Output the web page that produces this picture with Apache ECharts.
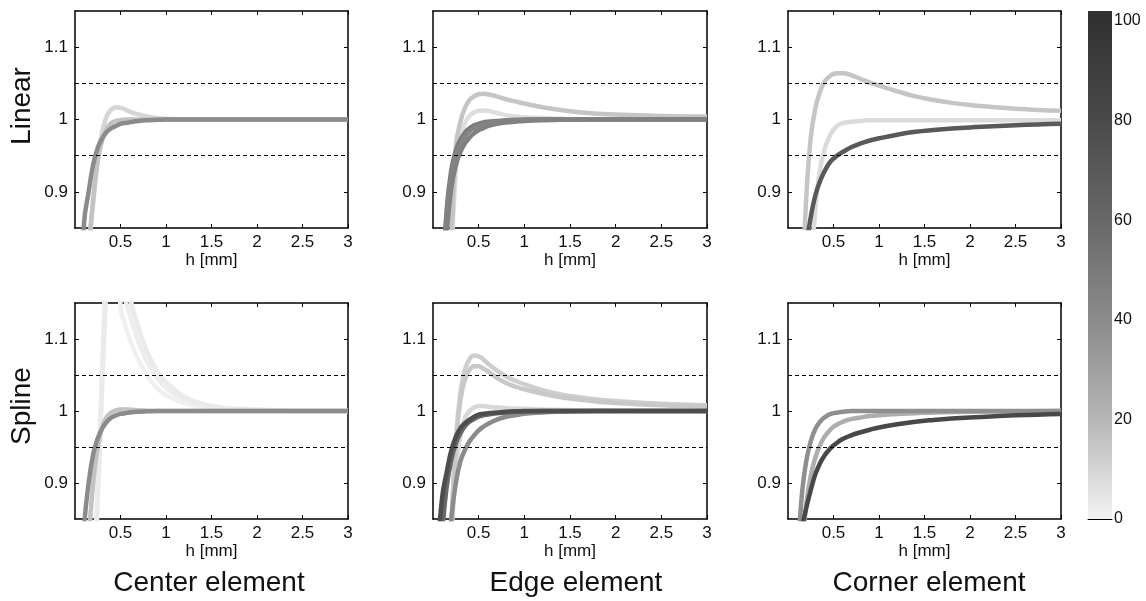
<!DOCTYPE html>
<html>
<head>
<meta charset="utf-8">
<script src="https://cdn.jsdelivr.net/npm/echarts@6/dist/echarts.min.js"></script>
<style>
  html, body { margin: 0; padding: 0; background: #fff; }
  #chart { width: 1146px; height: 601px; }
</style>
</head>
<body>
<div id="chart"></div>
<script>
// Element size h [mm] sampled on a common grid
const hValues = [0.05, 0.1, 0.15, 0.2, 0.25, 0.3, 0.35, 0.4, 0.45, 0.5, 0.55, 0.6, 0.7, 0.8, 0.9, 1.0, 1.2, 1.4, 1.6, 1.8, 2.0, 2.5, 3.0];

// Linear interpolation – center element
const linCenterA = [null, null, 0.82, 0.885, 0.945, 0.984, 1.005, 1.014, 1.017, 1.016, 1.014, 1.011, 1.007, 1.004, 1.002, 1.001, 1.0, 1.0, 1.0, 1.0, 1.0, 1.0, 1.0];
const linCenterB = [null, null, 0.82, 0.89, 0.943, 0.972, 0.988, 0.995, 0.998, 0.999, 1.0, 1.0, 1.0, 1.0, 1.0, 1.0, 1.0, 1.0, 1.0, 1.0, 1.0, 1.0, 1.0];
const linCenterC = [0.70, 0.858, 0.9, 0.938, 0.961, 0.974, 0.983, 0.988, 0.991, 0.994, 0.995, 0.996, 0.998, 0.999, 0.9995, 1.0, 1.0, 1.0, 1.0, 1.0, 1.0, 1.0, 1.0];
const linCenterLevels = [10, 16, 40];

// Linear interpolation – edge element
const linEdgeA = [null, null, null, 0.8, 0.925, 0.975, 0.995, 1.005, 1.01, 1.012, 1.0125, 1.012, 1.009, 1.006, 1.004, 1.003, 1.002, 1.001, 1.0, 1.0, 1.0, 1.0, 1.0];
const linEdgeB = [null, null, null, 0.81, 0.962, 0.997, 1.016, 1.027, 1.032, 1.035, 1.0355, 1.035, 1.032, 1.028, 1.025, 1.022, 1.017, 1.013, 1.010, 1.008, 1.007, 1.005, 1.004];
const linEdgeC = [null, 0.76, 0.875, 0.93, 0.957, 0.972, 0.982, 0.988, 0.992, 0.994, 0.996, 0.997, 0.998, 0.999, 0.9995, 1.0, 1.0, 1.0, 1.0, 1.0, 1.0, 1.0, 1.0];
const linEdgeD = [null, 0.75, 0.87, 0.922, 0.95, 0.966, 0.977, 0.984, 0.988, 0.991, 0.993, 0.995, 0.997, 0.998, 0.999, 0.999, 1.0, 1.0, 1.0, 1.0, 1.0, 1.0, 1.0];
const linEdgeE = [null, null, 0.84, 0.905, 0.937, 0.955, 0.967, 0.975, 0.981, 0.985, 0.988, 0.991, 0.994, 0.996, 0.997, 0.998, 0.999, 0.9995, 1.0, 1.0, 1.0, 1.0, 1.0];
const linEdgeLevels = [7, 15, 50, 44, 46];

// Linear interpolation – corner element
const linCornerA = [null, null, null, null, 0.78, 0.875, 0.93, 0.958, 0.975, 0.986, 0.992, 0.995, 0.997, 0.998, 0.999, 0.999, 0.999, 0.999, 0.999, 0.999, 0.999, 0.999, 0.999];
const linCornerB = [null, null, 0.75, 0.89, 0.975, 1.015, 1.038, 1.052, 1.059, 1.063, 1.064, 1.064, 1.061, 1.056, 1.051, 1.047, 1.039, 1.032, 1.027, 1.023, 1.020, 1.015, 1.012];
const linCornerC = [null, null, 0.78, 0.825, 0.865, 0.895, 0.914, 0.928, 0.939, 0.946, 0.951, 0.955, 0.962, 0.967, 0.971, 0.974, 0.979, 0.983, 0.9855, 0.9875, 0.989, 0.992, 0.994];
const linCornerLevels = [8, 15, 70];

// Spline interpolation – center element
const splCenterA = [null, null, null, 0.75, 0.9, 1.07, 1.25, 1.45, 1.3, 1.145, 1.12, 1.1, 1.07, 1.048, 1.032, 1.022, 1.011, 1.006, 1.003, 1.002, 1.001, 1.0, 1.0];
const splCenterB = [null, null, null, 0.73, 0.89, 1.05, 1.22, 1.45, 1.6, 1.3, 1.16, 1.135, 1.095, 1.066, 1.046, 1.032, 1.016, 1.008, 1.004, 1.002, 1.001, 1.0, 1.0];
const splCenterC = [null, null, null, 0.72, 0.875, 1.04, 1.2, 1.45, 1.6, 1.55, 1.3, 1.165, 1.115, 1.08, 1.056, 1.04, 1.02, 1.01, 1.005, 1.003, 1.002, 1.0, 1.0];
const splCenterD = [null, null, 0.82, 0.9, 0.95, 0.978, 0.992, 0.998, 1.001, 1.002, 1.002, 1.002, 1.001, 1.0005, 1.0, 1.0, 1.0, 1.0, 1.0, 1.0, 1.0, 1.0, 1.0];
const splCenterE = [0.72, 0.84, 0.9, 0.94, 0.962, 0.976, 0.985, 0.991, 0.994, 0.996, 0.997, 0.998, 0.999, 0.9995, 1.0, 1.0, 1.0, 1.0, 1.0, 1.0, 1.0, 1.0, 1.0];
const splCenterLevels = [1, 2, 3, 16, 40];

// Spline interpolation – edge element
const splEdgeA = [null, null, 0.72, 0.82, 0.92, 0.965, 0.99, 1.0, 1.005, 1.007, 1.007, 1.006, 1.005, 1.004, 1.003, 1.003, 1.002, 1.0015, 1.001, 1.001, 1.0005, 1.0, 1.0];
const splEdgeB = [null, null, 0.7, 0.84, 0.96, 1.025, 1.058, 1.072, 1.077, 1.076, 1.072, 1.066, 1.056, 1.048, 1.042, 1.037, 1.029, 1.023, 1.019, 1.016, 1.014, 1.010, 1.008];
const splEdgeC = [null, null, 0.7, 0.835, 0.952, 1.015, 1.044, 1.057, 1.062, 1.062, 1.059, 1.055, 1.046, 1.039, 1.034, 1.03, 1.024, 1.019, 1.016, 1.013, 1.011, 1.008, 1.006];
const splEdgeD = [null, null, 0.77, 0.85, 0.9, 0.93, 0.946, 0.958, 0.966, 0.973, 0.978, 0.982, 0.988, 0.992, 0.994, 0.996, 0.998, 0.999, 0.9995, 1.0, 1.0, 1.0, 1.0];
const splEdgeE = [null, 0.83, 0.895, 0.932, 0.955, 0.969, 0.979, 0.985, 0.989, 0.992, 0.994, 0.995, 0.997, 0.998, 0.999, 0.999, 1.0, 1.0, 1.0, 1.0, 1.0, 1.0, 1.0];
const splEdgeF = [0.8, 0.88, 0.915, 0.945, 0.964, 0.976, 0.983, 0.988, 0.992, 0.995, 0.996, 0.997, 0.998, 0.999, 0.9995, 1.0, 1.0, 1.0, 1.0, 1.0, 1.0, 1.0, 1.0];
const splEdgeLevels = [9, 12, 14, 40, 60, 78];

// Spline interpolation – corner element
const splCornerA = [null, null, 0.8, 0.87, 0.91, 0.935, 0.952, 0.964, 0.972, 0.978, 0.982, 0.985, 0.989, 0.991, 0.993, 0.994, 0.996, 0.997, 0.998, 0.9985, 0.999, 0.9995, 1.0];
const splCornerB = [null, 0.78, 0.88, 0.93, 0.958, 0.975, 0.985, 0.991, 0.995, 0.997, 0.998, 0.999, 1.0, 1.0, 1.0, 1.0, 1.0, 1.0, 1.0, 1.0, 1.0, 1.0, 1.0];
const splCornerC = [null, null, 0.835, 0.865, 0.89, 0.912, 0.927, 0.938, 0.946, 0.952, 0.957, 0.961, 0.9665, 0.9705, 0.974, 0.977, 0.9815, 0.985, 0.9875, 0.9895, 0.991, 0.994, 0.996];
const splCornerLevels = [24, 38, 82];

// Axis ticks and labels
const xTicks = [0.5, 1, 1.5, 2, 2.5, 3];
const yTicks = [0.9, 1, 1.1];
const bandLimits = [1.05, 0.95];
const colorbarTicks = [0, 20, 40, 60, 80, 100];
const rowLabels = ['Linear', 'Spline'];
const columnLabels = ['Center element', 'Edge element', 'Corner element'];

// Gray colormap: level (0-100) -> gray value
const cmapLevels = [0, 20, 40, 60, 80, 100];
const cmapGrays = [243, 182, 139, 104, 74, 50];

function levelColor(v) {
  let g = cmapGrays[cmapGrays.length - 1];
  for (let i = 0; i < cmapLevels.length - 1; i++) {
    if (v <= cmapLevels[i + 1]) {
      const t = (v - cmapLevels[i]) / (cmapLevels[i + 1] - cmapLevels[i]);
      g = cmapGrays[i] + t * (cmapGrays[i + 1] - cmapGrays[i]);
      break;
    }
  }
  g = Math.round(g);
  return 'rgb(' + g + ',' + g + ',' + g + ')';
}

const panels = [
  { curves: [linCenterA, linCenterB, linCenterC], levels: linCenterLevels },
  { curves: [linEdgeA, linEdgeB, linEdgeC, linEdgeD, linEdgeE], levels: linEdgeLevels },
  { curves: [linCornerA, linCornerB, linCornerC], levels: linCornerLevels },
  { curves: [splCenterA, splCenterB, splCenterC, splCenterD, splCenterE], levels: splCenterLevels },
  { curves: [splEdgeA, splEdgeB, splEdgeC, splEdgeD, splEdgeE, splEdgeF], levels: splEdgeLevels },
  { curves: [splCornerA, splCornerB, splCornerC], levels: splCornerLevels }
];

const FONT = '"Liberation Sans", Arial, Helvetica, sans-serif';
const INK = '#111';
const colLeft = [75, 433, 788];
const colWidth = [273, 274, 273];
const rowTop = [11, 303];
const rowHeight = [217, 216];

const grids = [], xAxes = [], yAxes = [], series = [];

panels.forEach((panel, p) => {
  const r = Math.floor(p / 3), c = p % 3;
  grids.push({ left: colLeft[c], top: rowTop[r], width: colWidth[c], height: rowHeight[r], containLabel: false });
  const frame = { show: true, onZero: false, lineStyle: { color: '#000', width: 1.5 } };
  const tickX = { show: true, inside: true, length: 4, customValues: xTicks, lineStyle: { color: '#000', width: 1 } };
  const tickY = { show: true, inside: true, length: 4, customValues: yTicks, lineStyle: { color: '#000', width: 1 } };
  xAxes.push({
    type: 'value', gridIndex: p, min: 0, max: 3, position: 'bottom',
    axisLine: frame, axisTick: tickX, splitLine: { show: false },
    axisLabel: { show: true, customValues: xTicks, margin: 6, fontSize: 17, color: INK, fontFamily: FONT, formatter: v => String(v) },
    name: 'h [mm]', nameLocation: 'middle', nameGap: 22,
    nameTextStyle: { fontSize: 17, color: INK, fontFamily: FONT }
  });
  xAxes.push({
    type: 'value', gridIndex: p, min: 0, max: 3, position: 'top',
    axisLine: frame, axisTick: tickX, splitLine: { show: false }, axisLabel: { show: false }
  });
  yAxes.push({
    type: 'value', gridIndex: p, min: 0.85, max: 1.15, position: 'left',
    axisLine: frame, axisTick: tickY, splitLine: { show: false },
    axisLabel: { show: true, customValues: yTicks, margin: 7, fontSize: 17, color: INK, fontFamily: FONT, formatter: v => String(v) }
  });
  yAxes.push({
    type: 'value', gridIndex: p, min: 0.85, max: 1.15, position: 'right',
    axisLine: frame, axisTick: tickY, splitLine: { show: false }, axisLabel: { show: false }
  });

  panel.curves.forEach((ys, k) => {
    const data = [];
    hValues.forEach((h, i) => { if (ys[i] !== null) data.push([h, ys[i]]); });
    const s = {
      type: 'line', xAxisIndex: 2 * p, yAxisIndex: 2 * p,
      data: data, showSymbol: false, symbol: 'none',
      smooth: 0.45, clip: true, silent: true,
      lineStyle: { width: 4.5, color: levelColor(panel.levels[k]) },
      z: 2 + k
    };
    if (k === 0) {
      s.markLine = {
        silent: true, symbol: ['none', 'none'], label: { show: false },
        lineStyle: { color: '#000', type: [4, 3], width: 1 },
        data: bandLimits.map(v => ({ yAxis: v })), z: 20
      };
    }
    series.push(s);
  });
});

// Colorbar drawn as one bar filled with the colormap gradient
const cbMax = 102;
grids.push({ left: 1088, top: 11, width: 24, height: 508 });
xAxes.push({
  type: 'category', gridIndex: 6, data: ['level'],
  axisLine: { show: true, lineStyle: { color: '#000', width: 1 } },
  axisTick: { show: false }, axisLabel: { show: false }, splitLine: { show: false }
});
yAxes.push({
  type: 'value', gridIndex: 6, min: 0, max: cbMax, position: 'right',
  axisLine: { show: false }, splitLine: { show: false },
  axisTick: { show: false },
  axisLabel: { show: true, customValues: colorbarTicks, margin: 2, fontSize: 16, color: INK, fontFamily: FONT }
});
series.push({
  type: 'bar', xAxisIndex: 12, yAxisIndex: 12, data: [cbMax],
  barWidth: '100%', silent: true,
  itemStyle: {
    color: {
      type: 'linear', x: 0, y: 1, x2: 0, y2: 0,
      colorStops: cmapLevels.map(v => ({ offset: v / cbMax, color: levelColor(v) }))
        .concat([{ offset: 1, color: levelColor(100) }])
    }
  }
});

const graphic = [];
const rowCenters = [106, 406];
rowLabels.forEach((t, i) => {
  graphic.push({
    type: 'text', x: 22, y: rowCenters[i], rotation: Math.PI / 2, silent: true,
    style: { text: t, fontSize: 28, fontFamily: FONT, fill: INK, align: 'center', verticalAlign: 'middle' }
  });
});
const colCenters = [209, 576, 929];
columnLabels.forEach((t, i) => {
  graphic.push({
    type: 'text', x: colCenters[i], y: 583, silent: true,
    style: { text: t, fontSize: 28, fontFamily: FONT, fill: INK, align: 'center', verticalAlign: 'middle' }
  });
});

const chart = echarts.init(document.getElementById('chart'), null, { renderer: 'canvas' });
chart.setOption({
  animation: false,
  backgroundColor: '#fff',
  grid: grids,
  xAxis: xAxes,
  yAxis: yAxes,
  series: series,
  graphic: graphic
});
</script>
</body>
</html>
